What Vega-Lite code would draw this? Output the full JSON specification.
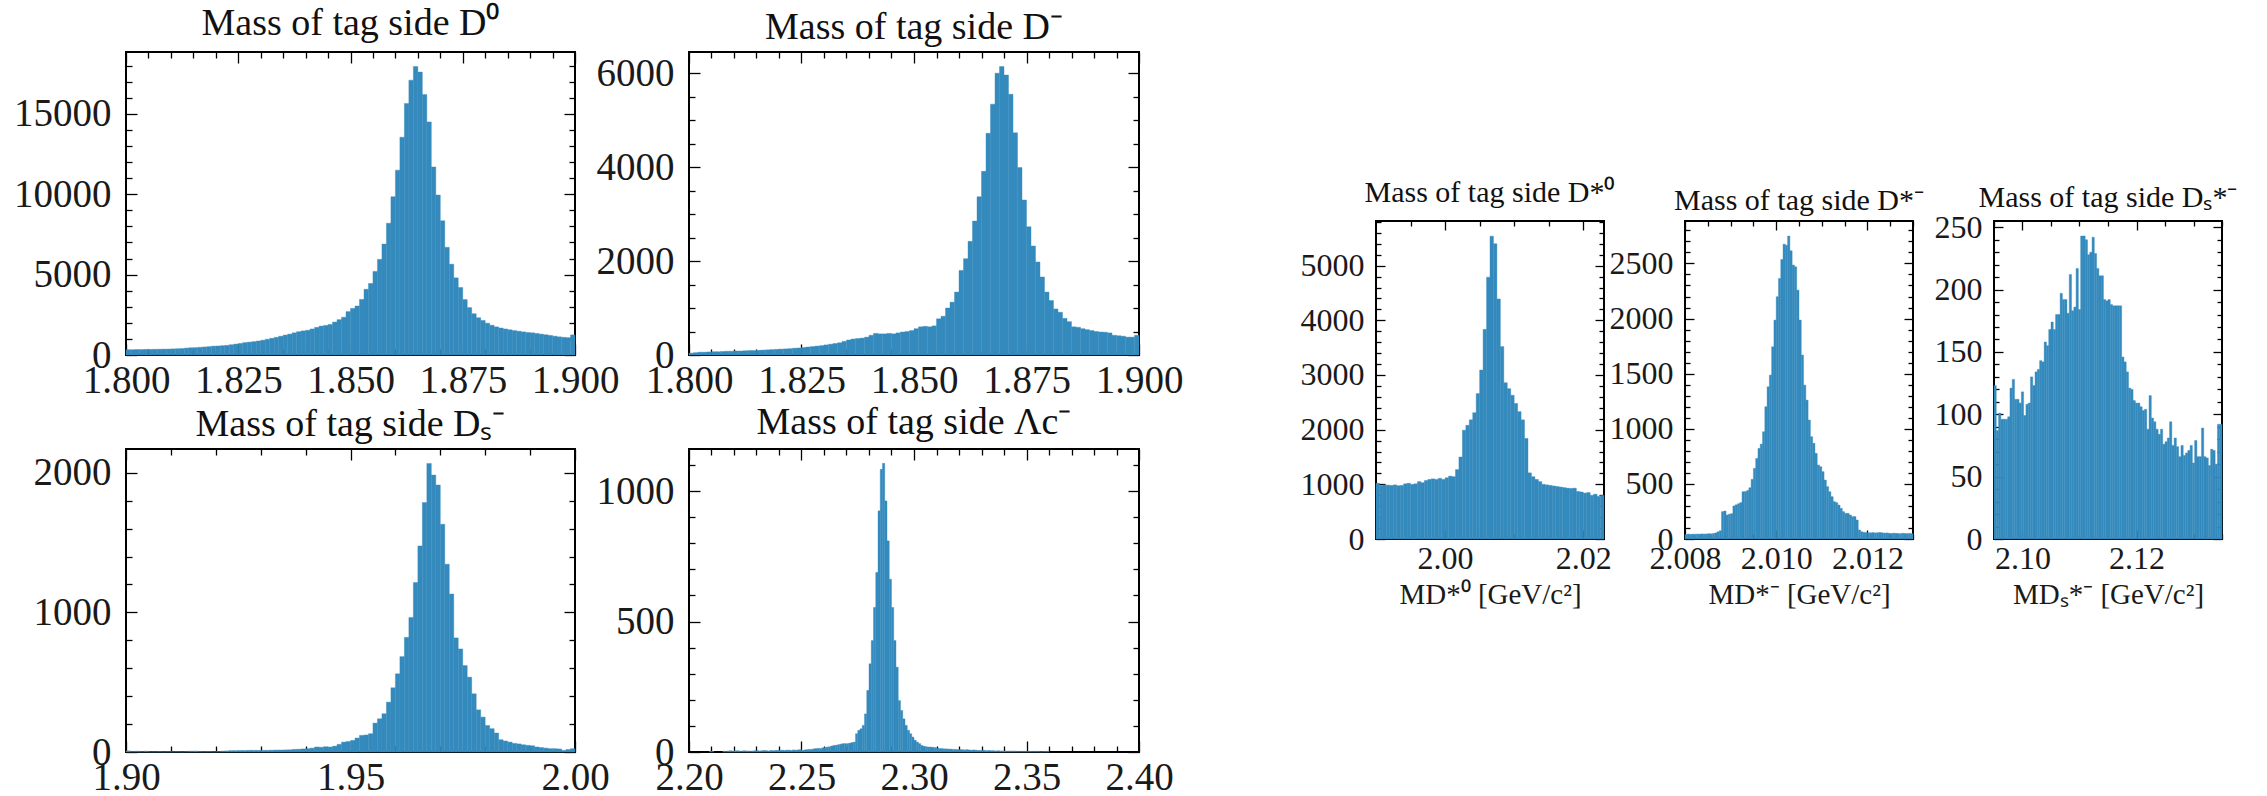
{
"$schema": "https://vega.github.io/schema/vega-lite/v6.json",
"background": "white",
"padding": {"left": 12, "top": 3, "right": 0, "bottom": 0},
"autosize": {"type": "pad"},
"config": {
  "view": {"stroke": "#000", "strokeWidth": 2},
  "axis": {"domain": false, "grid": false, "tickColor": "#000", "tickWidth": 1.3, "labelFont": "Liberation Serif", "labelColor": "#1a1a1a", "labelOverlap": false, "labelFlush": false, "titleFont": "Liberation Serif", "titleFontWeight": "normal", "titleColor": "#1a1a1a"},
  "title": {"font": "Liberation Serif", "fontWeight": "normal", "fontSize": 38, "color": "#111", "offset": 4, "baseline": "bottom"},
  "rect": {"color": "#348ABD"}
},
"datasets": {
"p1": [{"a":1.800,"b":1.801,"n":330},{"a":1.801,"b":1.802,"n":330},{"a":1.802,"b":1.803,"n":340},{"a":1.803,"b":1.804,"n":340},{"a":1.804,"b":1.805,"n":350},{"a":1.805,"b":1.806,"n":350},{"a":1.806,"b":1.807,"n":355},{"a":1.807,"b":1.808,"n":360},{"a":1.808,"b":1.809,"n":365},{"a":1.809,"b":1.810,"n":370},
{"a":1.810,"b":1.811,"n":380},{"a":1.811,"b":1.812,"n":390},{"a":1.812,"b":1.813,"n":400},{"a":1.813,"b":1.814,"n":430},{"a":1.814,"b":1.815,"n":450},{"a":1.815,"b":1.816,"n":460},{"a":1.816,"b":1.817,"n":480},{"a":1.817,"b":1.818,"n":500},{"a":1.818,"b":1.819,"n":520},{"a":1.819,"b":1.820,"n":550},
{"a":1.820,"b":1.821,"n":560},{"a":1.821,"b":1.822,"n":580},{"a":1.822,"b":1.823,"n":600},{"a":1.823,"b":1.824,"n":640},{"a":1.824,"b":1.825,"n":680},{"a":1.825,"b":1.826,"n":720},{"a":1.826,"b":1.827,"n":770},{"a":1.827,"b":1.828,"n":800},{"a":1.828,"b":1.829,"n":830},{"a":1.829,"b":1.830,"n":870},
{"a":1.830,"b":1.831,"n":920},{"a":1.831,"b":1.832,"n":980},{"a":1.832,"b":1.833,"n":1040},{"a":1.833,"b":1.834,"n":1100},{"a":1.834,"b":1.835,"n":1170},{"a":1.835,"b":1.836,"n":1240},{"a":1.836,"b":1.837,"n":1300},{"a":1.837,"b":1.838,"n":1380},{"a":1.838,"b":1.839,"n":1450},{"a":1.839,"b":1.840,"n":1500},
{"a":1.840,"b":1.841,"n":1540},{"a":1.841,"b":1.842,"n":1620},{"a":1.842,"b":1.843,"n":1720},{"a":1.843,"b":1.844,"n":1800},{"a":1.844,"b":1.845,"n":1840},{"a":1.845,"b":1.846,"n":1900},{"a":1.846,"b":1.847,"n":2050},{"a":1.847,"b":1.848,"n":2200},{"a":1.848,"b":1.849,"n":2350},{"a":1.849,"b":1.850,"n":2700},
{"a":1.850,"b":1.851,"n":2900},{"a":1.851,"b":1.852,"n":3050},{"a":1.852,"b":1.853,"n":3460},{"a":1.853,"b":1.854,"n":4090},{"a":1.854,"b":1.855,"n":4450},{"a":1.855,"b":1.856,"n":5200},{"a":1.856,"b":1.857,"n":5950},{"a":1.857,"b":1.858,"n":6900},{"a":1.858,"b":1.859,"n":8200},{"a":1.859,"b":1.860,"n":9850},
{"a":1.860,"b":1.861,"n":11500},{"a":1.861,"b":1.862,"n":13550},{"a":1.862,"b":1.863,"n":15650},{"a":1.863,"b":1.864,"n":17100},{"a":1.864,"b":1.865,"n":17950},{"a":1.865,"b":1.866,"n":17600},{"a":1.866,"b":1.867,"n":16200},{"a":1.867,"b":1.868,"n":14500},{"a":1.868,"b":1.869,"n":11700},{"a":1.869,"b":1.870,"n":9950},
{"a":1.870,"b":1.871,"n":8350},{"a":1.871,"b":1.872,"n":6700},{"a":1.872,"b":1.873,"n":5650},{"a":1.873,"b":1.874,"n":4800},{"a":1.874,"b":1.875,"n":4200},{"a":1.875,"b":1.876,"n":3450},{"a":1.876,"b":1.877,"n":2950},{"a":1.877,"b":1.878,"n":2570},{"a":1.878,"b":1.879,"n":2320},{"a":1.879,"b":1.880,"n":2150},
{"a":1.880,"b":1.881,"n":1980},{"a":1.881,"b":1.882,"n":1850},{"a":1.882,"b":1.883,"n":1750},{"a":1.883,"b":1.884,"n":1680},{"a":1.884,"b":1.885,"n":1620},{"a":1.885,"b":1.886,"n":1570},{"a":1.886,"b":1.887,"n":1520},{"a":1.887,"b":1.888,"n":1480},{"a":1.888,"b":1.889,"n":1440},{"a":1.889,"b":1.890,"n":1400},
{"a":1.890,"b":1.891,"n":1380},{"a":1.891,"b":1.892,"n":1340},{"a":1.892,"b":1.893,"n":1300},{"a":1.893,"b":1.894,"n":1260},{"a":1.894,"b":1.895,"n":1220},{"a":1.895,"b":1.896,"n":1170},{"a":1.896,"b":1.897,"n":1130},{"a":1.897,"b":1.898,"n":1100},{"a":1.898,"b":1.899,"n":1080},{"a":1.899,"b":1.900,"n":1250}],
"p2": [{"a":1.800,"b":1.801,"n":40},{"a":1.801,"b":1.802,"n":50},{"a":1.802,"b":1.803,"n":60},{"a":1.803,"b":1.804,"n":60},{"a":1.804,"b":1.805,"n":65},{"a":1.805,"b":1.806,"n":70},{"a":1.806,"b":1.807,"n":70},{"a":1.807,"b":1.808,"n":75},{"a":1.808,"b":1.809,"n":80},{"a":1.809,"b":1.810,"n":80},
{"a":1.810,"b":1.811,"n":85},{"a":1.811,"b":1.812,"n":85},{"a":1.812,"b":1.813,"n":90},{"a":1.813,"b":1.814,"n":95},{"a":1.814,"b":1.815,"n":95},{"a":1.815,"b":1.816,"n":100},{"a":1.816,"b":1.817,"n":105},{"a":1.817,"b":1.818,"n":110},{"a":1.818,"b":1.819,"n":115},{"a":1.819,"b":1.820,"n":120},
{"a":1.820,"b":1.821,"n":125},{"a":1.821,"b":1.822,"n":130},{"a":1.822,"b":1.823,"n":135},{"a":1.823,"b":1.824,"n":145},{"a":1.824,"b":1.825,"n":150},{"a":1.825,"b":1.826,"n":160},{"a":1.826,"b":1.827,"n":170},{"a":1.827,"b":1.828,"n":180},{"a":1.828,"b":1.829,"n":190},{"a":1.829,"b":1.830,"n":200},
{"a":1.830,"b":1.831,"n":215},{"a":1.831,"b":1.832,"n":230},{"a":1.832,"b":1.833,"n":245},{"a":1.833,"b":1.834,"n":260},{"a":1.834,"b":1.835,"n":290},{"a":1.835,"b":1.836,"n":320},{"a":1.836,"b":1.837,"n":340},{"a":1.837,"b":1.838,"n":350},{"a":1.838,"b":1.839,"n":360},{"a":1.839,"b":1.840,"n":380},
{"a":1.840,"b":1.841,"n":420},{"a":1.841,"b":1.842,"n":460},{"a":1.842,"b":1.843,"n":450},{"a":1.843,"b":1.844,"n":450},{"a":1.844,"b":1.845,"n":460},{"a":1.845,"b":1.846,"n":450},{"a":1.846,"b":1.847,"n":470},{"a":1.847,"b":1.848,"n":490},{"a":1.848,"b":1.849,"n":500},{"a":1.849,"b":1.850,"n":520},
{"a":1.850,"b":1.851,"n":560},{"a":1.851,"b":1.852,"n":600},{"a":1.852,"b":1.853,"n":610},{"a":1.853,"b":1.854,"n":600},{"a":1.854,"b":1.855,"n":620},{"a":1.855,"b":1.856,"n":770},{"a":1.856,"b":1.857,"n":825},{"a":1.857,"b":1.858,"n":1000},{"a":1.858,"b":1.859,"n":1125},{"a":1.859,"b":1.860,"n":1340},
{"a":1.860,"b":1.861,"n":1800},{"a":1.861,"b":1.862,"n":2050},{"a":1.862,"b":1.863,"n":2420},{"a":1.863,"b":1.864,"n":2850},{"a":1.864,"b":1.865,"n":3370},{"a":1.865,"b":1.866,"n":3910},{"a":1.866,"b":1.867,"n":4720},{"a":1.867,"b":1.868,"n":5340},{"a":1.868,"b":1.869,"n":6000},{"a":1.869,"b":1.870,"n":6140},
{"a":1.870,"b":1.871,"n":5960},{"a":1.871,"b":1.872,"n":5550},{"a":1.872,"b":1.873,"n":4730},{"a":1.873,"b":1.874,"n":3990},{"a":1.874,"b":1.875,"n":3300},{"a":1.875,"b":1.876,"n":2730},{"a":1.876,"b":1.877,"n":2320},{"a":1.877,"b":1.878,"n":1980},{"a":1.878,"b":1.879,"n":1660},{"a":1.879,"b":1.880,"n":1340},
{"a":1.880,"b":1.881,"n":1160},{"a":1.881,"b":1.882,"n":980},{"a":1.882,"b":1.883,"n":910},{"a":1.883,"b":1.884,"n":780},{"a":1.884,"b":1.885,"n":710},{"a":1.885,"b":1.886,"n":600},{"a":1.886,"b":1.887,"n":590},{"a":1.887,"b":1.888,"n":560},{"a":1.888,"b":1.889,"n":540},{"a":1.889,"b":1.890,"n":520},
{"a":1.890,"b":1.891,"n":500},{"a":1.891,"b":1.892,"n":490},{"a":1.892,"b":1.893,"n":485},{"a":1.893,"b":1.894,"n":470},{"a":1.894,"b":1.895,"n":420},{"a":1.895,"b":1.896,"n":410},{"a":1.896,"b":1.897,"n":400},{"a":1.897,"b":1.898,"n":380},{"a":1.898,"b":1.899,"n":380},{"a":1.899,"b":1.900,"n":420}],
"p3": [{"a":1.900,"b":1.901,"n":8},{"a":1.901,"b":1.902,"n":4},{"a":1.902,"b":1.903,"n":6},{"a":1.903,"b":1.904,"n":3},{"a":1.904,"b":1.905,"n":6},{"a":1.905,"b":1.906,"n":2},{"a":1.906,"b":1.907,"n":2},{"a":1.907,"b":1.908,"n":3},{"a":1.908,"b":1.909,"n":2},{"a":1.909,"b":1.910,"n":3},
{"a":1.910,"b":1.911,"n":2},{"a":1.911,"b":1.912,"n":3},{"a":1.912,"b":1.913,"n":2},{"a":1.913,"b":1.914,"n":3},{"a":1.914,"b":1.915,"n":6},{"a":1.915,"b":1.916,"n":7},{"a":1.916,"b":1.917,"n":4},{"a":1.917,"b":1.918,"n":3},{"a":1.918,"b":1.919,"n":4},{"a":1.919,"b":1.920,"n":2},
{"a":1.920,"b":1.921,"n":3},{"a":1.921,"b":1.922,"n":6},{"a":1.922,"b":1.923,"n":8},{"a":1.923,"b":1.924,"n":10},{"a":1.924,"b":1.925,"n":10},{"a":1.925,"b":1.926,"n":11},{"a":1.926,"b":1.927,"n":11},{"a":1.927,"b":1.928,"n":12},{"a":1.928,"b":1.929,"n":12},{"a":1.929,"b":1.930,"n":12},
{"a":1.930,"b":1.931,"n":12},{"a":1.931,"b":1.932,"n":12},{"a":1.932,"b":1.933,"n":13},{"a":1.933,"b":1.934,"n":14},{"a":1.934,"b":1.935,"n":14},{"a":1.935,"b":1.936,"n":15},{"a":1.936,"b":1.937,"n":16},{"a":1.937,"b":1.938,"n":19},{"a":1.938,"b":1.939,"n":20},{"a":1.939,"b":1.940,"n":22},
{"a":1.940,"b":1.941,"n":24},{"a":1.941,"b":1.942,"n":28},{"a":1.942,"b":1.943,"n":36},{"a":1.943,"b":1.944,"n":34},{"a":1.944,"b":1.945,"n":38},{"a":1.945,"b":1.946,"n":36},{"a":1.946,"b":1.947,"n":42},{"a":1.947,"b":1.948,"n":55},{"a":1.948,"b":1.949,"n":71},{"a":1.949,"b":1.950,"n":75},
{"a":1.950,"b":1.951,"n":83},{"a":1.951,"b":1.952,"n":100},{"a":1.952,"b":1.953,"n":119},{"a":1.953,"b":1.954,"n":122},{"a":1.954,"b":1.955,"n":131},{"a":1.955,"b":1.956,"n":207},{"a":1.956,"b":1.957,"n":238},{"a":1.957,"b":1.958,"n":274},{"a":1.958,"b":1.959,"n":357},{"a":1.959,"b":1.960,"n":460},
{"a":1.960,"b":1.961,"n":560},{"a":1.961,"b":1.962,"n":683},{"a":1.962,"b":1.963,"n":821},{"a":1.963,"b":1.964,"n":964},{"a":1.964,"b":1.965,"n":1214},{"a":1.965,"b":1.966,"n":1476},{"a":1.966,"b":1.967,"n":1786},{"a":1.967,"b":1.968,"n":2067},{"a":1.968,"b":1.969,"n":1983},{"a":1.969,"b":1.970,"n":1912},
{"a":1.970,"b":1.971,"n":1631},{"a":1.971,"b":1.972,"n":1345},{"a":1.972,"b":1.973,"n":1131},{"a":1.973,"b":1.974,"n":817},{"a":1.974,"b":1.975,"n":738},{"a":1.975,"b":1.976,"n":619},{"a":1.976,"b":1.977,"n":536},{"a":1.977,"b":1.978,"n":417},{"a":1.978,"b":1.979,"n":302},{"a":1.979,"b":1.980,"n":250},
{"a":1.980,"b":1.981,"n":190},{"a":1.981,"b":1.982,"n":167},{"a":1.982,"b":1.983,"n":136},{"a":1.983,"b":1.984,"n":88},{"a":1.984,"b":1.985,"n":79},{"a":1.985,"b":1.986,"n":71},{"a":1.986,"b":1.987,"n":62},{"a":1.987,"b":1.988,"n":58},{"a":1.988,"b":1.989,"n":52},{"a":1.989,"b":1.990,"n":48},
{"a":1.990,"b":1.991,"n":45},{"a":1.991,"b":1.992,"n":36},{"a":1.992,"b":1.993,"n":32},{"a":1.993,"b":1.994,"n":28},{"a":1.994,"b":1.995,"n":24},{"a":1.995,"b":1.996,"n":24},{"a":1.996,"b":1.997,"n":22},{"a":1.997,"b":1.998,"n":12},{"a":1.998,"b":1.999,"n":18},{"a":1.999,"b":2.000,"n":24}],
"p4": [{"a":2.209,"b":2.210,"n":3},{"a":2.210,"b":2.211,"n":2},{"a":2.215,"b":2.216,"n":3},{"a":2.216,"b":2.217,"n":2},{"a":2.217,"b":2.218,"n":4},{"a":2.218,"b":2.219,"n":5},{"a":2.219,"b":2.220,"n":3},
{"a":2.220,"b":2.221,"n":4},{"a":2.221,"b":2.222,"n":5},{"a":2.222,"b":2.223,"n":4},{"a":2.223,"b":2.224,"n":3},{"a":2.224,"b":2.225,"n":5},{"a":2.225,"b":2.226,"n":4},{"a":2.226,"b":2.227,"n":4},{"a":2.227,"b":2.228,"n":3},{"a":2.228,"b":2.229,"n":4},{"a":2.229,"b":2.230,"n":5},
{"a":2.230,"b":2.231,"n":5},{"a":2.231,"b":2.232,"n":4},{"a":2.232,"b":2.233,"n":5},{"a":2.233,"b":2.234,"n":6},{"a":2.234,"b":2.235,"n":5},{"a":2.235,"b":2.236,"n":4},{"a":2.236,"b":2.237,"n":6},{"a":2.237,"b":2.238,"n":5},{"a":2.238,"b":2.239,"n":6},{"a":2.239,"b":2.240,"n":6},
{"a":2.240,"b":2.241,"n":6},{"a":2.241,"b":2.242,"n":7},{"a":2.242,"b":2.243,"n":6},{"a":2.243,"b":2.244,"n":7},{"a":2.244,"b":2.245,"n":7},{"a":2.245,"b":2.246,"n":6},{"a":2.246,"b":2.247,"n":8},{"a":2.247,"b":2.248,"n":7},{"a":2.248,"b":2.249,"n":8},{"a":2.249,"b":2.250,"n":9},
{"a":2.250,"b":2.251,"n":6},{"a":2.251,"b":2.252,"n":8},{"a":2.252,"b":2.253,"n":9},{"a":2.253,"b":2.254,"n":10},{"a":2.254,"b":2.255,"n":10},{"a":2.255,"b":2.256,"n":12},{"a":2.256,"b":2.257,"n":13},{"a":2.257,"b":2.258,"n":14},{"a":2.258,"b":2.259,"n":13},{"a":2.259,"b":2.260,"n":16},
{"a":2.260,"b":2.261,"n":17},{"a":2.261,"b":2.262,"n":19},{"a":2.262,"b":2.263,"n":20},{"a":2.263,"b":2.264,"n":23},{"a":2.264,"b":2.265,"n":25},{"a":2.265,"b":2.266,"n":26},{"a":2.266,"b":2.267,"n":28},{"a":2.267,"b":2.268,"n":30},{"a":2.268,"b":2.269,"n":32},{"a":2.269,"b":2.270,"n":32},
{"a":2.270,"b":2.271,"n":32},{"a":2.271,"b":2.272,"n":34},{"a":2.272,"b":2.273,"n":36},{"a":2.273,"b":2.274,"n":38},{"a":2.274,"b":2.275,"n":70},{"a":2.275,"b":2.276,"n":83},{"a":2.276,"b":2.277,"n":89},{"a":2.277,"b":2.278,"n":102},{"a":2.278,"b":2.279,"n":146},{"a":2.279,"b":2.280,"n":236},
{"a":2.280,"b":2.281,"n":338},{"a":2.281,"b":2.282,"n":427},{"a":2.282,"b":2.283,"n":554},{"a":2.283,"b":2.284,"n":688},{"a":2.284,"b":2.285,"n":924},{"a":2.285,"b":2.286,"n":1083},{"a":2.286,"b":2.287,"n":1106},{"a":2.287,"b":2.288,"n":962},{"a":2.288,"b":2.289,"n":809},{"a":2.289,"b":2.290,"n":662},
{"a":2.290,"b":2.291,"n":554},{"a":2.291,"b":2.292,"n":427},{"a":2.292,"b":2.293,"n":325},{"a":2.293,"b":2.294,"n":197},{"a":2.294,"b":2.295,"n":159},{"a":2.295,"b":2.296,"n":127},{"a":2.296,"b":2.297,"n":102},{"a":2.297,"b":2.298,"n":83},{"a":2.298,"b":2.299,"n":70},{"a":2.299,"b":2.300,"n":57},
{"a":2.300,"b":2.301,"n":45},{"a":2.301,"b":2.302,"n":38},{"a":2.302,"b":2.303,"n":32},{"a":2.303,"b":2.304,"n":25},{"a":2.304,"b":2.305,"n":22},{"a":2.305,"b":2.306,"n":20},{"a":2.306,"b":2.307,"n":19},{"a":2.307,"b":2.308,"n":19},{"a":2.308,"b":2.309,"n":18},{"a":2.309,"b":2.310,"n":17},
{"a":2.310,"b":2.311,"n":14},{"a":2.311,"b":2.312,"n":13},{"a":2.312,"b":2.313,"n":13},{"a":2.313,"b":2.314,"n":12},{"a":2.314,"b":2.315,"n":12},{"a":2.315,"b":2.316,"n":11},{"a":2.316,"b":2.317,"n":11},{"a":2.317,"b":2.318,"n":10},{"a":2.318,"b":2.319,"n":10},{"a":2.319,"b":2.320,"n":9},
{"a":2.320,"b":2.321,"n":9},{"a":2.321,"b":2.322,"n":9},{"a":2.322,"b":2.323,"n":8},{"a":2.323,"b":2.324,"n":9},{"a":2.324,"b":2.325,"n":8},{"a":2.325,"b":2.326,"n":7},{"a":2.326,"b":2.327,"n":8},{"a":2.327,"b":2.328,"n":7},{"a":2.328,"b":2.329,"n":6},{"a":2.329,"b":2.330,"n":6},
{"a":2.330,"b":2.331,"n":7},{"a":2.331,"b":2.332,"n":6},{"a":2.332,"b":2.333,"n":5},{"a":2.333,"b":2.334,"n":6},{"a":2.334,"b":2.335,"n":5},{"a":2.335,"b":2.336,"n":5},{"a":2.336,"b":2.337,"n":4},{"a":2.337,"b":2.338,"n":5},{"a":2.338,"b":2.339,"n":4},{"a":2.339,"b":2.340,"n":4},
{"a":2.340,"b":2.341,"n":4},{"a":2.341,"b":2.342,"n":3},{"a":2.342,"b":2.343,"n":4},{"a":2.343,"b":2.344,"n":3},{"a":2.344,"b":2.345,"n":4},{"a":2.345,"b":2.346,"n":3},{"a":2.346,"b":2.347,"n":3},{"a":2.347,"b":2.348,"n":2},{"a":2.348,"b":2.349,"n":3},{"a":2.349,"b":2.350,"n":3},
{"a":2.350,"b":2.351,"n":2},{"a":2.351,"b":2.352,"n":3},{"a":2.352,"b":2.353,"n":2},{"a":2.353,"b":2.354,"n":2},{"a":2.354,"b":2.355,"n":3},{"a":2.355,"b":2.356,"n":2},{"a":2.356,"b":2.357,"n":1},{"a":2.357,"b":2.358,"n":2},{"a":2.358,"b":2.359,"n":2},{"a":2.359,"b":2.360,"n":3}],
"p5": [{"a":1.9900,"b":1.9905,"n":1020},{"a":1.9905,"b":1.9910,"n":980},{"a":1.9910,"b":1.9915,"n":990},{"a":1.9915,"b":1.9920,"n":985},{"a":1.9920,"b":1.9925,"n":980},{"a":1.9925,"b":1.9930,"n":990},{"a":1.9930,"b":1.9935,"n":975},{"a":1.9935,"b":1.9940,"n":980},{"a":1.9940,"b":1.9945,"n":1010},{"a":1.9945,"b":1.9950,"n":1020},
{"a":1.9950,"b":1.9955,"n":1000},{"a":1.9955,"b":1.9960,"n":1010},{"a":1.9960,"b":1.9965,"n":1050},{"a":1.9965,"b":1.9970,"n":1030},{"a":1.9970,"b":1.9975,"n":1070},{"a":1.9975,"b":1.9980,"n":1090},{"a":1.9980,"b":1.9985,"n":1100},{"a":1.9985,"b":1.9990,"n":1090},{"a":1.9990,"b":1.9995,"n":1110},{"a":1.9995,"b":2.0000,"n":1090},
{"a":2.0000,"b":2.0005,"n":1120},{"a":2.0005,"b":2.0010,"n":1150},{"a":2.0010,"b":2.0015,"n":1140},{"a":2.0015,"b":2.0020,"n":1270},{"a":2.0020,"b":2.0025,"n":1500},{"a":2.0025,"b":2.0030,"n":1990},{"a":2.0030,"b":2.0035,"n":2080},{"a":2.0035,"b":2.0040,"n":2180},{"a":2.0040,"b":2.0045,"n":2310},{"a":2.0045,"b":2.0050,"n":2660},
{"a":2.0050,"b":2.0055,"n":3090},{"a":2.0055,"b":2.0060,"n":3835},{"a":2.0060,"b":2.0065,"n":4790},{"a":2.0065,"b":2.0070,"n":5540},{"a":2.0070,"b":2.0075,"n":5400},{"a":2.0075,"b":2.0080,"n":4390},{"a":2.0080,"b":2.0085,"n":3520},{"a":2.0085,"b":2.0090,"n":2860},{"a":2.0090,"b":2.0095,"n":2750},{"a":2.0095,"b":2.0100,"n":2630},
{"a":2.0100,"b":2.0105,"n":2480},{"a":2.0105,"b":2.0110,"n":2330},{"a":2.0110,"b":2.0115,"n":2180},{"a":2.0115,"b":2.0120,"n":1840},{"a":2.0120,"b":2.0125,"n":1210},{"a":2.0125,"b":2.0130,"n":1140},{"a":2.0130,"b":2.0135,"n":1090},{"a":2.0135,"b":2.0140,"n":1050},{"a":2.0140,"b":2.0145,"n":1000},{"a":2.0145,"b":2.0150,"n":990},
{"a":2.0150,"b":2.0155,"n":980},{"a":2.0155,"b":2.0160,"n":970},{"a":2.0160,"b":2.0165,"n":960},{"a":2.0165,"b":2.0170,"n":950},{"a":2.0170,"b":2.0175,"n":940},{"a":2.0175,"b":2.0180,"n":930},{"a":2.0180,"b":2.0185,"n":925},{"a":2.0185,"b":2.0190,"n":930},{"a":2.0190,"b":2.0195,"n":870},{"a":2.0195,"b":2.0200,"n":860},
{"a":2.0200,"b":2.0205,"n":840},{"a":2.0205,"b":2.0210,"n":850},{"a":2.0210,"b":2.0215,"n":800},{"a":2.0215,"b":2.0220,"n":820},{"a":2.0220,"b":2.0225,"n":780},{"a":2.0225,"b":2.0230,"n":800}],
"p6": [{"a":2.00800,"b":2.00805,"n":40},{"a":2.00805,"b":2.00810,"n":45},{"a":2.00810,"b":2.00815,"n":42},{"a":2.00815,"b":2.00820,"n":44},{"a":2.00820,"b":2.00825,"n":43},{"a":2.00825,"b":2.00830,"n":45},{"a":2.00830,"b":2.00835,"n":44},{"a":2.00835,"b":2.00840,"n":46},{"a":2.00840,"b":2.00845,"n":45},{"a":2.00845,"b":2.00850,"n":46},
{"a":2.00850,"b":2.00855,"n":48},{"a":2.00855,"b":2.00860,"n":47},{"a":2.00860,"b":2.00865,"n":50},{"a":2.00865,"b":2.00870,"n":55},{"a":2.00870,"b":2.00875,"n":65},{"a":2.00875,"b":2.00880,"n":75},{"a":2.00880,"b":2.00885,"n":248},{"a":2.00885,"b":2.00890,"n":254},{"a":2.00890,"b":2.00895,"n":218},{"a":2.00895,"b":2.00900,"n":225},
{"a":2.00900,"b":2.00905,"n":230},{"a":2.00905,"b":2.00910,"n":300},{"a":2.00910,"b":2.00915,"n":310},{"a":2.00915,"b":2.00920,"n":320},{"a":2.00920,"b":2.00925,"n":330},{"a":2.00925,"b":2.00930,"n":429},{"a":2.00930,"b":2.00935,"n":430},{"a":2.00935,"b":2.00940,"n":440},{"a":2.00940,"b":2.00945,"n":465},{"a":2.00945,"b":2.00950,"n":541},
{"a":2.00950,"b":2.00955,"n":641},{"a":2.00955,"b":2.00960,"n":731},{"a":2.00960,"b":2.00965,"n":822},{"a":2.00965,"b":2.00970,"n":861},{"a":2.00970,"b":2.00975,"n":973},{"a":2.00975,"b":2.00980,"n":1200},{"a":2.00980,"b":2.00985,"n":1381},{"a":2.00985,"b":2.00990,"n":1487},{"a":2.00990,"b":2.00995,"n":1744},{"a":2.00995,"b":2.01000,"n":1986},
{"a":2.01000,"b":2.01005,"n":2198},{"a":2.01005,"b":2.01010,"n":2364},{"a":2.01010,"b":2.01015,"n":2536},{"a":2.01015,"b":2.01020,"n":2675},{"a":2.01020,"b":2.01025,"n":2666},{"a":2.01025,"b":2.01030,"n":2748},{"a":2.01030,"b":2.01035,"n":2615},{"a":2.01035,"b":2.01040,"n":2485},{"a":2.01040,"b":2.01045,"n":2470},{"a":2.01045,"b":2.01050,"n":2258},
{"a":2.01050,"b":2.01055,"n":1986},{"a":2.01055,"b":2.01060,"n":1669},{"a":2.01060,"b":2.01065,"n":1396},{"a":2.01065,"b":2.01070,"n":1260},{"a":2.01070,"b":2.01075,"n":1079},{"a":2.01075,"b":2.01080,"n":928},{"a":2.01080,"b":2.01085,"n":868},{"a":2.01085,"b":2.01090,"n":777},{"a":2.01090,"b":2.01095,"n":671},{"a":2.01095,"b":2.01100,"n":656},
{"a":2.01100,"b":2.01105,"n":611},{"a":2.01105,"b":2.01110,"n":535},{"a":2.01110,"b":2.01115,"n":475},{"a":2.01115,"b":2.01120,"n":429},{"a":2.01120,"b":2.01125,"n":384},{"a":2.01125,"b":2.01130,"n":339},{"a":2.01130,"b":2.01135,"n":330},{"a":2.01135,"b":2.01140,"n":308},{"a":2.01140,"b":2.01145,"n":278},{"a":2.01145,"b":2.01150,"n":248},
{"a":2.01150,"b":2.01155,"n":233},{"a":2.01155,"b":2.01160,"n":233},{"a":2.01160,"b":2.01165,"n":218},{"a":2.01165,"b":2.01170,"n":203},{"a":2.01170,"b":2.01175,"n":203},{"a":2.01175,"b":2.01180,"n":172},{"a":2.01180,"b":2.01185,"n":82},{"a":2.01185,"b":2.01190,"n":66},{"a":2.01190,"b":2.01195,"n":60},{"a":2.01195,"b":2.01200,"n":58},
{"a":2.01200,"b":2.01205,"n":57},{"a":2.01205,"b":2.01210,"n":56},{"a":2.01210,"b":2.01215,"n":58},{"a":2.01215,"b":2.01220,"n":55},{"a":2.01220,"b":2.01225,"n":57},{"a":2.01225,"b":2.01230,"n":59},{"a":2.01230,"b":2.01235,"n":56},{"a":2.01235,"b":2.01240,"n":54},{"a":2.01240,"b":2.01245,"n":55},{"a":2.01245,"b":2.01250,"n":52},
{"a":2.01250,"b":2.01255,"n":50},{"a":2.01255,"b":2.01260,"n":53},{"a":2.01260,"b":2.01265,"n":51},{"a":2.01265,"b":2.01270,"n":50},{"a":2.01270,"b":2.01275,"n":48},{"a":2.01275,"b":2.01280,"n":52},{"a":2.01280,"b":2.01285,"n":50},{"a":2.01285,"b":2.01290,"n":49},{"a":2.01290,"b":2.01295,"n":51},{"a":2.01295,"b":2.01300,"n":48}],
"p7": [{"a":2.0950,"b":2.0954,"n":123},{"a":2.0954,"b":2.0958,"n":87},{"a":2.0958,"b":2.0962,"n":101},{"a":2.0962,"b":2.0966,"n":96},{"a":2.0966,"b":2.0970,"n":96},{"a":2.0970,"b":2.0974,"n":96},{"a":2.0974,"b":2.0978,"n":98},{"a":2.0978,"b":2.0982,"n":121},{"a":2.0982,"b":2.0986,"n":128},{"a":2.0986,"b":2.0990,"n":112},
{"a":2.0990,"b":2.0994,"n":112},{"a":2.0994,"b":2.0998,"n":109},{"a":2.0998,"b":2.1002,"n":118},{"a":2.1002,"b":2.1006,"n":99},{"a":2.1006,"b":2.1010,"n":108},{"a":2.1010,"b":2.1014,"n":109},{"a":2.1014,"b":2.1018,"n":130},{"a":2.1018,"b":2.1022,"n":123},{"a":2.1022,"b":2.1026,"n":134},{"a":2.1026,"b":2.1030,"n":136},
{"a":2.1030,"b":2.1034,"n":143},{"a":2.1034,"b":2.1038,"n":142},{"a":2.1038,"b":2.1042,"n":158},{"a":2.1042,"b":2.1046,"n":155},{"a":2.1046,"b":2.1050,"n":168},{"a":2.1050,"b":2.1054,"n":174},{"a":2.1054,"b":2.1058,"n":168},{"a":2.1058,"b":2.1062,"n":180},{"a":2.1062,"b":2.1066,"n":180},{"a":2.1066,"b":2.1070,"n":197},
{"a":2.1070,"b":2.1074,"n":192},{"a":2.1074,"b":2.1078,"n":192},{"a":2.1078,"b":2.1082,"n":181},{"a":2.1082,"b":2.1086,"n":212},{"a":2.1086,"b":2.1090,"n":183},{"a":2.1090,"b":2.1094,"n":186},{"a":2.1094,"b":2.1098,"n":217},{"a":2.1098,"b":2.1102,"n":184},{"a":2.1102,"b":2.1106,"n":243},{"a":2.1106,"b":2.1110,"n":243},
{"a":2.1110,"b":2.1114,"n":240},{"a":2.1114,"b":2.1118,"n":228},{"a":2.1118,"b":2.1122,"n":230},{"a":2.1122,"b":2.1126,"n":242},{"a":2.1126,"b":2.1130,"n":229},{"a":2.1130,"b":2.1134,"n":217},{"a":2.1134,"b":2.1138,"n":211},{"a":2.1138,"b":2.1142,"n":211},{"a":2.1142,"b":2.1146,"n":192},{"a":2.1146,"b":2.1150,"n":191},
{"a":2.1150,"b":2.1154,"n":192},{"a":2.1154,"b":2.1158,"n":188},{"a":2.1158,"b":2.1162,"n":187},{"a":2.1162,"b":2.1166,"n":187},{"a":2.1166,"b":2.1170,"n":187},{"a":2.1170,"b":2.1174,"n":187},{"a":2.1174,"b":2.1178,"n":146},{"a":2.1178,"b":2.1182,"n":142},{"a":2.1182,"b":2.1186,"n":134},{"a":2.1186,"b":2.1190,"n":121},
{"a":2.1190,"b":2.1194,"n":120},{"a":2.1194,"b":2.1198,"n":111},{"a":2.1198,"b":2.1202,"n":109},{"a":2.1202,"b":2.1206,"n":109},{"a":2.1206,"b":2.1210,"n":106},{"a":2.1210,"b":2.1214,"n":103},{"a":2.1214,"b":2.1218,"n":104},{"a":2.1218,"b":2.1222,"n":88},{"a":2.1222,"b":2.1226,"n":115},{"a":2.1226,"b":2.1230,"n":97},
{"a":2.1230,"b":2.1234,"n":94},{"a":2.1234,"b":2.1238,"n":88},{"a":2.1238,"b":2.1242,"n":84},{"a":2.1242,"b":2.1246,"n":88},{"a":2.1246,"b":2.1250,"n":76},{"a":2.1250,"b":2.1254,"n":78},{"a":2.1254,"b":2.1258,"n":81},{"a":2.1258,"b":2.1262,"n":94},{"a":2.1262,"b":2.1266,"n":75},{"a":2.1266,"b":2.1270,"n":81},
{"a":2.1270,"b":2.1274,"n":74},{"a":2.1274,"b":2.1278,"n":66},{"a":2.1278,"b":2.1282,"n":75},{"a":2.1282,"b":2.1286,"n":67},{"a":2.1286,"b":2.1290,"n":69},{"a":2.1290,"b":2.1294,"n":71},{"a":2.1294,"b":2.1298,"n":75},{"a":2.1298,"b":2.1302,"n":61},{"a":2.1302,"b":2.1306,"n":79},{"a":2.1306,"b":2.1310,"n":66},
{"a":2.1310,"b":2.1314,"n":66},{"a":2.1314,"b":2.1318,"n":89},{"a":2.1318,"b":2.1322,"n":66},{"a":2.1322,"b":2.1326,"n":65},{"a":2.1326,"b":2.1330,"n":59},{"a":2.1330,"b":2.1334,"n":72},{"a":2.1334,"b":2.1338,"n":71},{"a":2.1338,"b":2.1342,"n":60},{"a":2.1342,"b":2.1346,"n":92},{"a":2.1346,"b":2.1350,"n":92}]
},
"spacing": 1250,
"bounds": "flush",
"hconcat": [
 {"concat": [
   {"width": 449, "height": 303, "data": {"name": "p1"}, "title": {"text": "Mass of tag side D⁰"},
    "layer": [
     {"mark": {"type": "rect", "stroke": "#348ABD", "strokeWidth": 0.4},
      "encoding": {
       "x": {"field": "a", "type": "quantitative", "scale": {"domain": [1.8, 1.9], "nice": false, "zero": false},
             "axis": {"orient": "bottom", "title": null, "values": [1.8,1.805,1.81,1.815,1.82,1.825,1.83,1.835,1.84,1.845,1.85,1.855,1.86,1.865,1.87,1.875,1.88,1.885,1.89,1.895,1.9], "labelExpr": "abs(datum.value*40-round(datum.value*40))<0.001 ? format(datum.value,'.3f') : ''", "tickSize": {"condition": {"test": "abs(datum.value*40-round(datum.value*40))<0.001", "value": -11}, "value": -6}, "labelPadding": 17, "labelFontSize": 39}},
       "x2": {"field": "b"},
       "y": {"field": "n", "type": "quantitative", "scale": {"domain": [0, 18850], "nice": false},
             "axis": {"orient": "left", "title": null, "values": [0,1000,2000,3000,4000,5000,6000,7000,8000,9000,10000,11000,12000,13000,14000,15000,16000,17000,18000], "labelExpr": "datum.value % 5000 == 0 ? format(datum.value,'d') : ''", "tickSize": {"condition": {"test": "datum.value % 5000 == 0", "value": -11}, "value": -6}, "labelPadding": 26, "labelFontSize": 39}},
       "y2": {"datum": 0}
      }},
     {"mark": {"type": "rect", "opacity": 0},
      "encoding": {
       "x": {"field": "a", "type": "quantitative", "axis": {"orient": "top", "title": null, "labels": false, "values": [1.8,1.805,1.81,1.815,1.82,1.825,1.83,1.835,1.84,1.845,1.85,1.855,1.86,1.865,1.87,1.875,1.88,1.885,1.89,1.895,1.9], "tickSize": {"condition": {"test": "abs(datum.value*40-round(datum.value*40))<0.001", "value": -11}, "value": -6}}},
       "x2": {"field": "b"},
       "y": {"field": "n", "type": "quantitative", "axis": {"orient": "right", "title": null, "labels": false, "values": [0,1000,2000,3000,4000,5000,6000,7000,8000,9000,10000,11000,12000,13000,14000,15000,16000,17000,18000], "tickSize": {"condition": {"test": "datum.value % 5000 == 0", "value": -11}, "value": -6}}},
       "y2": {"datum": 0}
      }}
    ],
    "resolve": {"axis": {"x": "independent", "y": "independent"}}},
   {"width": 450, "height": 303, "data": {"name": "p2"}, "title": {"text": "Mass of tag side D⁻"},
    "layer": [
     {"mark": {"type": "rect", "stroke": "#348ABD", "strokeWidth": 0.4},
      "encoding": {
       "x": {"field": "a", "type": "quantitative", "scale": {"domain": [1.8, 1.9], "nice": false, "zero": false},
             "axis": {"orient": "bottom", "title": null, "values": [1.8,1.805,1.81,1.815,1.82,1.825,1.83,1.835,1.84,1.845,1.85,1.855,1.86,1.865,1.87,1.875,1.88,1.885,1.89,1.895,1.9], "labelExpr": "abs(datum.value*40-round(datum.value*40))<0.001 ? format(datum.value,'.3f') : ''", "tickSize": {"condition": {"test": "abs(datum.value*40-round(datum.value*40))<0.001", "value": -11}, "value": -6}, "labelPadding": 17, "labelFontSize": 39}},
       "x2": {"field": "b"},
       "y": {"field": "n", "type": "quantitative", "scale": {"domain": [0, 6450], "nice": false},
             "axis": {"orient": "left", "title": null, "values": [0,500,1000,1500,2000,2500,3000,3500,4000,4500,5000,5500,6000], "labelExpr": "datum.value % 2000 == 0 ? format(datum.value,'d') : ''", "tickSize": {"condition": {"test": "datum.value % 2000 == 0", "value": -11}, "value": -6}, "labelPadding": 26, "labelFontSize": 39}},
       "y2": {"datum": 0}
      }},
     {"mark": {"type": "rect", "opacity": 0},
      "encoding": {
       "x": {"field": "a", "type": "quantitative", "axis": {"orient": "top", "title": null, "labels": false, "values": [1.8,1.805,1.81,1.815,1.82,1.825,1.83,1.835,1.84,1.845,1.85,1.855,1.86,1.865,1.87,1.875,1.88,1.885,1.89,1.895,1.9], "tickSize": {"condition": {"test": "abs(datum.value*40-round(datum.value*40))<0.001", "value": -11}, "value": -6}}},
       "x2": {"field": "b"},
       "y": {"field": "n", "type": "quantitative", "axis": {"orient": "right", "title": null, "labels": false, "values": [0,500,1000,1500,2000,2500,3000,3500,4000,4500,5000,5500,6000], "tickSize": {"condition": {"test": "datum.value % 2000 == 0", "value": -11}, "value": -6}}},
       "y2": {"datum": 0}
      }}
    ],
    "resolve": {"axis": {"x": "independent", "y": "independent"}}},
   {"width": 449, "height": 303, "data": {"name": "p3"}, "title": {"text": "Mass of tag side Dₛ⁻"},
    "layer": [
     {"mark": {"type": "rect", "stroke": "#348ABD", "strokeWidth": 0.4},
      "encoding": {
       "x": {"field": "a", "type": "quantitative", "scale": {"domain": [1.9, 2.0], "nice": false, "zero": false},
             "axis": {"orient": "bottom", "title": null, "values": [1.9,1.91,1.92,1.93,1.94,1.95,1.96,1.97,1.98,1.99,2.0], "labelExpr": "abs(datum.value*20-round(datum.value*20))<0.001 ? format(datum.value,'.2f') : ''", "tickSize": {"condition": {"test": "abs(datum.value*20-round(datum.value*20))<0.001", "value": -11}, "value": -6}, "labelPadding": 17, "labelFontSize": 39}},
       "x2": {"field": "b"},
       "y": {"field": "n", "type": "quantitative", "scale": {"domain": [0, 2170], "nice": false},
             "axis": {"orient": "left", "title": null, "values": [0,200,400,600,800,1000,1200,1400,1600,1800,2000], "labelExpr": "datum.value % 1000 == 0 ? format(datum.value,'d') : ''", "tickSize": {"condition": {"test": "datum.value % 1000 == 0", "value": -11}, "value": -6}, "labelPadding": 26, "labelFontSize": 39}},
       "y2": {"datum": 0}
      }},
     {"mark": {"type": "rect", "opacity": 0},
      "encoding": {
       "x": {"field": "a", "type": "quantitative", "axis": {"orient": "top", "title": null, "labels": false, "values": [1.9,1.91,1.92,1.93,1.94,1.95,1.96,1.97,1.98,1.99,2.0], "tickSize": {"condition": {"test": "abs(datum.value*20-round(datum.value*20))<0.001", "value": -11}, "value": -6}}},
       "x2": {"field": "b"},
       "y": {"field": "n", "type": "quantitative", "axis": {"orient": "right", "title": null, "labels": false, "values": [0,200,400,600,800,1000,1200,1400,1600,1800,2000], "tickSize": {"condition": {"test": "datum.value % 1000 == 0", "value": -11}, "value": -6}}},
       "y2": {"datum": 0}
      }}
    ],
    "resolve": {"axis": {"x": "independent", "y": "independent"}}},
   {"width": 450, "height": 303, "data": {"name": "p4"}, "title": {"text": "Mass of tag side Λc⁻"},
    "layer": [
     {"mark": {"type": "rect", "stroke": "#348ABD", "strokeWidth": 0.4},
      "encoding": {
       "x": {"field": "a", "type": "quantitative", "scale": {"domain": [2.2, 2.4], "nice": false, "zero": false},
             "axis": {"orient": "bottom", "title": null, "values": [2.2,2.21,2.22,2.23,2.24,2.25,2.26,2.27,2.28,2.29,2.3,2.31,2.32,2.33,2.34,2.35,2.36,2.37,2.38,2.39,2.4], "labelExpr": "abs(datum.value*20-round(datum.value*20))<0.001 ? format(datum.value,'.2f') : ''", "tickSize": {"condition": {"test": "abs(datum.value*20-round(datum.value*20))<0.001", "value": -11}, "value": -6}, "labelPadding": 17, "labelFontSize": 39}},
       "x2": {"field": "b"},
       "y": {"field": "n", "type": "quantitative", "scale": {"domain": [0, 1161], "nice": false},
             "axis": {"orient": "left", "title": null, "values": [0,100,200,300,400,500,600,700,800,900,1000,1100], "labelExpr": "datum.value % 500 == 0 ? format(datum.value,'d') : ''", "tickSize": {"condition": {"test": "datum.value % 500 == 0", "value": -11}, "value": -6}, "labelPadding": 26, "labelFontSize": 39}},
       "y2": {"datum": 0}
      }},
     {"mark": {"type": "rect", "opacity": 0},
      "encoding": {
       "x": {"field": "a", "type": "quantitative", "axis": {"orient": "top", "title": null, "labels": false, "values": [2.2,2.21,2.22,2.23,2.24,2.25,2.26,2.27,2.28,2.29,2.3,2.31,2.32,2.33,2.34,2.35,2.36,2.37,2.38,2.39,2.4], "tickSize": {"condition": {"test": "abs(datum.value*20-round(datum.value*20))<0.001", "value": -11}, "value": -6}}},
       "x2": {"field": "b"},
       "y": {"field": "n", "type": "quantitative", "axis": {"orient": "right", "title": null, "labels": false, "values": [0,100,200,300,400,500,600,700,800,900,1000,1100], "tickSize": {"condition": {"test": "datum.value % 500 == 0", "value": -11}, "value": -6}}},
       "y2": {"datum": 0}
      }}
    ],
    "resolve": {"axis": {"x": "independent", "y": "independent"}}}
  ], "columns": 2, "spacing": {"row": 94, "column": 114}, "bounds": "flush"},
 {"vconcat": [
  {"width": 1, "height": 1, "view": {"stroke": null}, "data": {"values": [{"t": ""}]}, "mark": {"type": "text"}, "encoding": {"text": {"field": "t", "type": "nominal"}}},
  {"hconcat": [
  {"width": 228, "height": 318, "data": {"name": "p5"}, "title": {"text": "Mass of tag side D*⁰", "fontSize": 30, "offset": -2},
   "layer": [
    {"mark": {"type": "rect", "stroke": "#348ABD", "strokeWidth": 0.4},
     "encoding": {
      "x": {"field": "a", "type": "quantitative", "scale": {"domain": [1.99, 2.023], "nice": false, "zero": false},
            "axis": {"orient": "bottom", "title": "MD*⁰ [GeV/c²]", "titleFontSize": 29, "titlePadding": 2, "values": [1.995,2.0,2.005,2.01,2.015,2.02], "labelExpr": "abs(datum.value*50-round(datum.value*50))<0.001 ? format(datum.value,'.2f') : ''", "tickSize": {"condition": {"test": "abs(datum.value*50-round(datum.value*50))<0.001", "value": -9}, "value": -5}, "labelPadding": 13, "labelFontSize": 32}},
      "x2": {"field": "b"},
      "y": {"field": "n", "type": "quantitative", "scale": {"domain": [0, 5817], "nice": false},
            "axis": {"orient": "left", "title": null, "values": [0,200,400,600,800,1000,1200,1400,1600,1800,2000,2200,2400,2600,2800,3000,3200,3400,3600,3800,4000,4200,4400,4600,4800,5000,5200,5400,5600,5800], "labelExpr": "datum.value % 1000 == 0 ? format(datum.value,'d') : ''", "tickSize": {"condition": {"test": "datum.value % 1000 == 0", "value": -9}, "value": -5}, "labelPadding": 21, "labelFontSize": 32}},
      "y2": {"datum": 0}
     }},
    {"mark": {"type": "rect", "opacity": 0},
     "encoding": {
      "x": {"field": "a", "type": "quantitative", "axis": {"orient": "top", "title": null, "labels": false, "values": [1.995,2.0,2.005,2.01,2.015,2.02], "tickSize": {"condition": {"test": "abs(datum.value*50-round(datum.value*50))<0.001", "value": -9}, "value": -5}}},
      "x2": {"field": "b"},
      "y": {"field": "n", "type": "quantitative", "axis": {"orient": "right", "title": null, "labels": false, "values": [0,200,400,600,800,1000,1200,1400,1600,1800,2000,2200,2400,2600,2800,3000,3200,3400,3600,3800,4000,4200,4400,4600,4800,5000,5200,5400,5600,5800], "tickSize": {"condition": {"test": "datum.value % 1000 == 0", "value": -9}, "value": -5}}},
      "y2": {"datum": 0}
     }}
   ],
   "resolve": {"axis": {"x": "independent", "y": "independent"}}},
  {"width": 228, "height": 318, "data": {"name": "p6"}, "title": {"text": "Mass of tag side D*⁻", "fontSize": 30, "offset": -2},
   "layer": [
    {"mark": {"type": "rect", "stroke": "#348ABD", "strokeWidth": 0.4},
     "encoding": {
      "x": {"field": "a", "type": "quantitative", "scale": {"domain": [2.008, 2.013], "nice": false, "zero": false},
            "axis": {"orient": "bottom", "title": "MD*⁻ [GeV/c²]", "titleFontSize": 29, "titlePadding": 2, "values": [2.008,2.0085,2.009,2.0095,2.01,2.0105,2.011,2.0115,2.012,2.0125,2.013], "labelExpr": "abs(datum.value*500-round(datum.value*500))<0.001 ? format(datum.value,'.3f') : ''", "tickSize": {"condition": {"test": "abs(datum.value*500-round(datum.value*500))<0.001", "value": -9}, "value": -5}, "labelPadding": 13, "labelFontSize": 32}},
      "x2": {"field": "b"},
      "y": {"field": "n", "type": "quantitative", "scale": {"domain": [0, 2885], "nice": false},
            "axis": {"orient": "left", "title": null, "values": [0,100,200,300,400,500,600,700,800,900,1000,1100,1200,1300,1400,1500,1600,1700,1800,1900,2000,2100,2200,2300,2400,2500,2600,2700,2800], "labelExpr": "datum.value % 500 == 0 ? format(datum.value,'d') : ''", "tickSize": {"condition": {"test": "datum.value % 500 == 0", "value": -9}, "value": -5}, "labelPadding": 21, "labelFontSize": 32}},
      "y2": {"datum": 0}
     }},
    {"mark": {"type": "rect", "opacity": 0},
     "encoding": {
      "x": {"field": "a", "type": "quantitative", "axis": {"orient": "top", "title": null, "labels": false, "values": [2.008,2.0085,2.009,2.0095,2.01,2.0105,2.011,2.0115,2.012,2.0125,2.013], "tickSize": {"condition": {"test": "abs(datum.value*500-round(datum.value*500))<0.001", "value": -9}, "value": -5}}},
      "x2": {"field": "b"},
      "y": {"field": "n", "type": "quantitative", "axis": {"orient": "right", "title": null, "labels": false, "values": [0,100,200,300,400,500,600,700,800,900,1000,1100,1200,1300,1400,1500,1600,1700,1800,1900,2000,2100,2200,2300,2400,2500,2600,2700,2800], "tickSize": {"condition": {"test": "datum.value % 500 == 0", "value": -9}, "value": -5}}},
      "y2": {"datum": 0}
     }}
   ],
   "resolve": {"axis": {"x": "independent", "y": "independent"}}},
  {"width": 228, "height": 318, "data": {"name": "p7"}, "title": {"text": "Mass of tag side Dₛ*⁻", "fontSize": 30, "offset": -2},
   "layer": [
    {"mark": {"type": "rect", "stroke": "#348ABD", "strokeWidth": 0.4},
     "encoding": {
      "x": {"field": "a", "type": "quantitative", "scale": {"domain": [2.095, 2.135], "nice": false, "zero": false},
            "axis": {"orient": "bottom", "title": "MDₛ*⁻ [GeV/c²]", "titleFontSize": 29, "titlePadding": 2, "values": [2.095,2.1,2.105,2.11,2.115,2.12,2.125,2.13,2.135], "labelExpr": "abs(datum.value*50-round(datum.value*50))<0.001 ? format(datum.value,'.2f') : ''", "tickSize": {"condition": {"test": "abs(datum.value*50-round(datum.value*50))<0.001", "value": -9}, "value": -5}, "labelPadding": 13, "labelFontSize": 32}},
      "x2": {"field": "b"},
      "y": {"field": "n", "type": "quantitative", "scale": {"domain": [0, 255], "nice": false},
            "axis": {"orient": "left", "title": null, "values": [0,10,20,30,40,50,60,70,80,90,100,110,120,130,140,150,160,170,180,190,200,210,220,230,240,250], "labelExpr": "datum.value % 50 == 0 ? format(datum.value,'d') : ''", "tickSize": {"condition": {"test": "datum.value % 50 == 0", "value": -9}, "value": -5}, "labelPadding": 21, "labelFontSize": 32}},
      "y2": {"datum": 0}
     }},
    {"mark": {"type": "rect", "opacity": 0},
     "encoding": {
      "x": {"field": "a", "type": "quantitative", "axis": {"orient": "top", "title": null, "labels": false, "values": [2.095,2.1,2.105,2.11,2.115,2.12,2.125,2.13,2.135], "tickSize": {"condition": {"test": "abs(datum.value*50-round(datum.value*50))<0.001", "value": -9}, "value": -5}}},
      "x2": {"field": "b"},
      "y": {"field": "n", "type": "quantitative", "axis": {"orient": "right", "title": null, "labels": false, "values": [0,10,20,30,40,50,60,70,80,90,100,110,120,130,140,150,160,170,180,190,200,210,220,230,240,250], "tickSize": {"condition": {"test": "datum.value % 50 == 0", "value": -9}, "value": -5}}},
      "y2": {"datum": 0}
     }}
   ],
   "resolve": {"axis": {"x": "independent", "y": "independent"}}}
  ], "spacing": 81, "bounds": "flush"}
 ], "spacing": 168, "bounds": "flush"}
]
}
